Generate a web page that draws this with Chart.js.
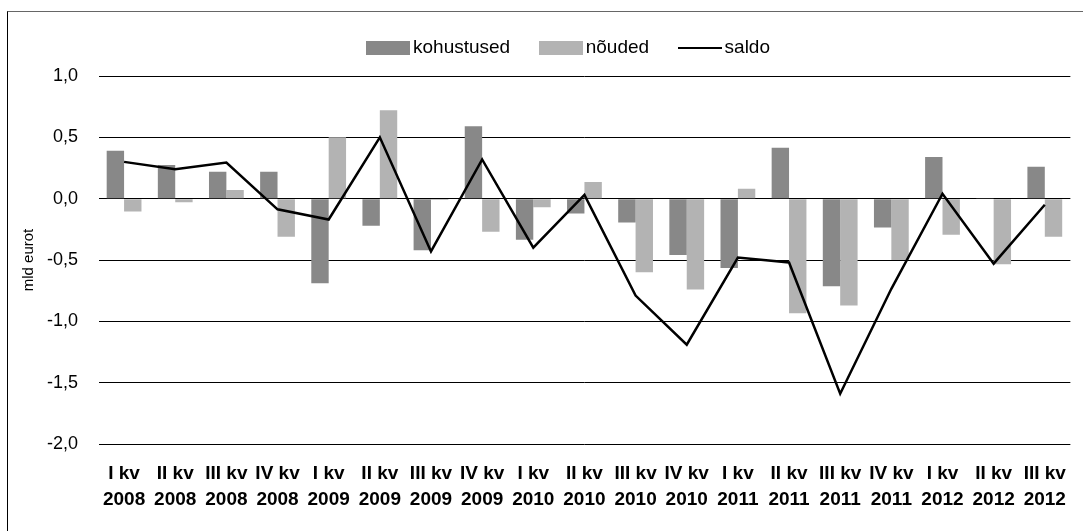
<!DOCTYPE html>
<html>
<head>
<meta charset="utf-8">
<script src="https://cdn.jsdelivr.net/npm/chart.js@4.4.0/dist/chart.umd.min.js"></script>
<style>
  html, body { margin: 0; padding: 0; background: #fff; }
  #wrap { position: relative; width: 1083px; height: 531px; overflow: hidden; }
  #frame { position: absolute; left: 7px; top: 11px; width: 1100px; height: 560px;
           border-left: 1.5px solid #000; border-top: 1.5px solid #666; box-sizing: border-box; }
  canvas#c { position: absolute; left: 0; top: 0; }
</style>
</head>
<body>
<div id="wrap">
  <div id="frame"></div>
  <canvas id="c" width="1083" height="531"></canvas>
</div>
<script>
const categories = [
  ["I kv","2008"],["II kv","2008"],["III kv","2008"],["IV kv","2008"],
  ["I kv","2009"],["II kv","2009"],["III kv","2009"],["IV kv","2009"],
  ["I kv","2010"],["II kv","2010"],["III kv","2010"],["IV kv","2010"],
  ["I kv","2011"],["II kv","2011"],["III kv","2011"],["IV kv","2011"],
  ["I kv","2012"],["II kv","2012"],["III kv","2012"]
];
const kohustused = [0.39, 0.275, 0.22, 0.22, -0.69, -0.22, -0.42, 0.59, -0.335, -0.12, -0.195, -0.46, -0.565, 0.415, -0.715, -0.235, 0.34, 0.005, 0.26];
const noudedVals = [-0.105, -0.03, 0.07, -0.31, 0.50, 0.72, -0.01, -0.27, -0.07, 0.135, -0.60, -0.74, 0.08, -0.935, -0.87, -0.50, -0.295, -0.535, -0.31];
const saldo = [0.30, 0.24, 0.295, -0.087, -0.17, 0.50, -0.43, 0.32, -0.40, 0.03, -0.79, -1.19, -0.48, -0.52, -1.59, -0.735, 0.04, -0.53, -0.05];
const yTickValues = [-2.0, -1.5, -1.0, -0.5, 0.0, 0.5, 1.0];
const yTickLabels = ["-2,0", "-1,5", "-1,0", "-0,5", "0,0", "0,5", "1,0"];

const FONT = "'Liberation Sans', Arial, Helvetica, sans-serif";
const KOH_COLOR = '#888888';
const NOU_COLOR = '#b3b3b3';

function swatch(w, h, color) {
  const cv = document.createElement('canvas');
  cv.width = w; cv.height = h;
  const cx = cv.getContext('2d');
  cx.fillStyle = color; cx.fillRect(0, 0, w, h);
  return cv;
}

const legendShift = {
  id: 'legendShift',
  afterLayout(chart) {
    const l = chart.legend;
    if (!l) return;
    l.left += 31; l.right += 31;
    l.top -= 8.5; l.bottom -= 8.5;
  }
};

new Chart(document.getElementById('c'), {
  data: {
    labels: categories,
    datasets: [
      { type: 'line', label: 'saldo', data: saldo, borderColor: '#000', backgroundColor: '#000',
        borderWidth: 2.5, pointRadius: 0, tension: 0, order: 0, pointStyle: swatch(44, 2, '#000') },
      { type: 'bar', label: 'kohustused', data: kohustused, backgroundColor: KOH_COLOR,
        borderWidth: 0, categoryPercentage: 0.68, barPercentage: 1.0, order: 1, pointStyle: swatch(44, 14, KOH_COLOR) },
      { type: 'bar', label: 'nõuded', data: noudedVals, backgroundColor: NOU_COLOR,
        borderWidth: 0, categoryPercentage: 0.68, barPercentage: 1.0, order: 2, pointStyle: swatch(44, 14, NOU_COLOR) }
    ]
  },
  plugins: [legendShift],
  options: {
    responsive: false,
    animation: false,
    layout: { padding: { left: 0, right: 2.5, top: 12, bottom: 1 } },
    plugins: {
      tooltip: { enabled: false },
      legend: {
        position: 'top',
        labels: {
          usePointStyle: true,
          pointStyleWidth: 31,
          boxHeight: 14,
          padding: 35,
          color: '#000',
          font: { family: FONT, size: 19 },
          sort: (a, b) => {
            const ord = { 'kohustused': 0, 'nõuded': 1, 'saldo': 2 };
            return ord[a.text] - ord[b.text];
          }
        }
      }
    },
    scales: {
      x: {
        offset: true,
        grid: { display: false, drawTicks: false },
        border: { display: false },
        ticks: { color: '#000', font: { family: FONT, size: 19, weight: 'bold', lineHeight: '26px' },
                 maxRotation: 0, minRotation: 0, autoSkip: false, padding: 17 }
      },
      y: {
        min: -2.0, max: 1.0,
        afterBuildTicks: (axis) => { axis.ticks = yTickValues.map(v => ({ value: v })); },
        afterFit: (axis) => { axis.width = 98.5; },
        grid: { color: '#000', lineWidth: 1, drawTicks: false },
        border: { display: false },
        ticks: {
          color: '#000', padding: 20.5,
          font: { family: FONT, size: 18 },
          callback: (v) => { const i = yTickValues.indexOf(Math.round(v * 10) / 10); return i >= 0 ? yTickLabels[i] : ''; }
        },
        title: { display: true, text: 'mld eurot', color: '#000', font: { family: FONT, size: 15 }, padding: { top: 20, bottom: 0 } }
      }
    }
  }
});
</script>
</body>
</html>
